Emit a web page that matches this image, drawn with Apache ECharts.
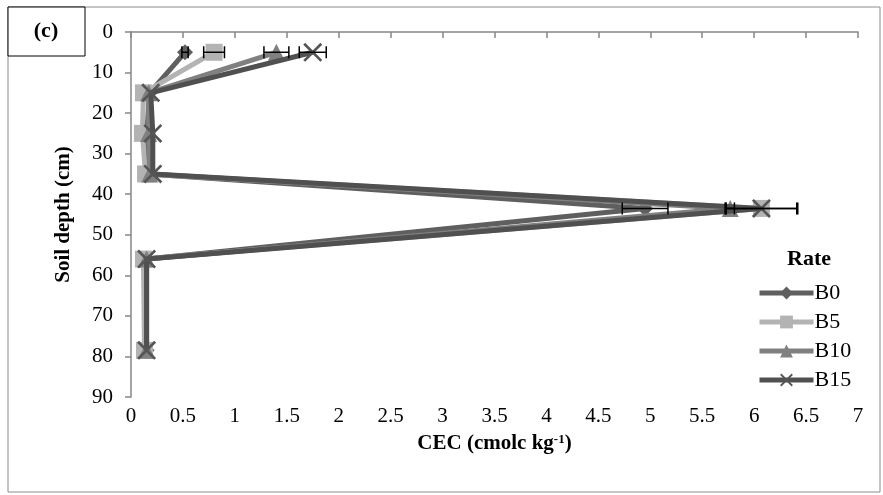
<!DOCTYPE html>
<html><head><meta charset="utf-8">
<script src="https://cdn.jsdelivr.net/npm/echarts@6/dist/echarts.min.js"></script>
<style>html,body{margin:0;padding:0;background:#fff}#c{width:883px;height:495px}</style>
</head><body><div id="c"></div>
<script>
const depths = [5, 15, 25, 35, 43.5, 56, 78.5];
const B0  = [0.52, 0.18, 0.15, 0.16, 4.95, 0.15, 0.15];
const B5  = [0.80, 0.12, 0.11, 0.14, 6.07, 0.12, 0.13];
const B10 = [1.40, 0.17, 0.17, 0.18, 5.77, 0.15, 0.15];
const B15 = [1.75, 0.19, 0.21, 0.21, 6.07, 0.15, 0.15];
const errB0  = [0.03, 0, 0, 0, 0.22, 0, 0];
const errB5  = [0.10, 0, 0, 0, 0.35, 0, 0];
const errB10 = [0.12, 0, 0, 0, 0.04, 0, 0];
const errB15 = [0.13, 0, 0, 0, 0.34, 0, 0];
const names = ['B0', 'B5', 'B10', 'B15'];
const colors = ['#5f5f5f', '#b3b3b3', '#808080', '#505050'];
const symbols = ['diamond', 'rect', 'triangle',
  'path://M0,1L1,0L10,9L9,10ZM9,0L10,1L1,10L0,9Z'];
const sizes = [16, 17, 17, 19];
const vals = [B0, B5, B10, B15];
const errs = [errB0, errB5, errB10, errB15];

const chart = echarts.init(document.getElementById('c'), null, {renderer: 'canvas'});
const font = 'Liberation Serif';
const series = [];
vals.forEach((v, i) => {
  series.push({
    name: names[i], type: 'line',
    data: v.map((x, k) => [x, depths[k]]),
    symbol: symbols[i], symbolSize: sizes[i], showSymbol: true,
    lineStyle: {width: 5, color: colors[i]},
    itemStyle: {color: i === 3 ? '#555' : colors[i]},
    z: 2 + i
  });
});
vals.forEach((v, i) => {
  series.push({
    type: 'custom', silent: true, z: 10,
    data: v.map((x, k) => [x, depths[k], errs[i][k]]),
    renderItem: function (params, api) {
      const x = api.value(0), y = api.value(1), e = api.value(2);
      if (!(e > 0)) return null;
      const p1 = api.coord([x - e, y]), p2 = api.coord([x + e, y]);
      const st = {stroke: '#000', lineWidth: 1.5};
      return {type: 'group', children: [
        {type: 'line', shape: {x1: p1[0], y1: p1[1], x2: p2[0], y2: p2[1]}, style: st},
        {type: 'line', shape: {x1: p1[0], y1: p1[1] - 6, x2: p1[0], y2: p1[1] + 6}, style: st},
        {type: 'line', shape: {x1: p2[0], y1: p2[1] - 6, x2: p2[0], y2: p2[1] + 6}, style: st}
      ]};
    }
  });
});

chart.setOption({
  animation: false,
  backgroundColor: '#fff',
  grid: {left: 131, right: 25, top: 32, bottom: 98},
  xAxis: {
    type: 'value', min: 0, max: 7, interval: 0.5,
    name: 'CEC (cmolc kg{sup|-1})', nameLocation: 'middle', nameGap: 36,
    nameTextStyle: {fontFamily: font, fontSize: 21, fontWeight: 'bold', color: '#000',
      rich: {sup: {fontFamily: font, fontSize: 13, fontWeight: 'bold', color: '#000', verticalAlign: 'top', padding: [0, 0, 9, 0]}}},
    axisLine: {lineStyle: {color: '#868686', width: 1.5}},
    axisTick: {lineStyle: {color: '#868686', width: 1.5}, length: 6},
    axisLabel: {fontFamily: font, fontSize: 21, color: '#000', margin: 9},
    splitLine: {show: false}
  },
  yAxis: {
    type: 'value', min: 0, max: 90, interval: 10, inverse: true,
    name: 'Soil depth (cm)', nameLocation: 'middle', nameGap: 57,
    nameTextStyle: {fontFamily: font, fontSize: 21, fontWeight: 'bold', color: '#000'},
    axisLine: {show: true, lineStyle: {color: '#868686', width: 1.5}},
    axisTick: {show: true, lineStyle: {color: '#868686', width: 1.5}, length: 6},
    axisLabel: {fontFamily: font, fontSize: 21, color: '#000', margin: 18},
    splitLine: {show: false}
  },
  legend: {
    data: names, orient: 'vertical', left: 752, top: 277,
    itemWidth: 54, itemHeight: 16, itemGap: 7,
    lineStyle: {width: 5},
    textStyle: {fontFamily: font, fontSize: 22, color: '#000', padding: [0, 0, 0, -4]}
  },
  graphic: [
    {type: 'rect', shape: {x: 8, y: 7, width: 872, height: 485}, style: {fill: 'none', stroke: '#8c8c8c', lineWidth: 1}, z: -1},
    {type: 'rect', shape: {x: 8, y: 7, width: 77, height: 49}, style: {fill: '#fff', stroke: '#000', lineWidth: 1}},
    {type: 'text', x: 46, y: 31, style: {text: '(c)', fontFamily: font, fontSize: 22, fontWeight: 'bold', fill: '#000', align: 'center', verticalAlign: 'middle'}},
    {type: 'text', x: 809, y: 259, style: {text: 'Rate', fontFamily: font, fontSize: 22, fontWeight: 'bold', fill: '#000', align: 'center', verticalAlign: 'middle'}}
  ],
  series: series
});
</script></body></html>
